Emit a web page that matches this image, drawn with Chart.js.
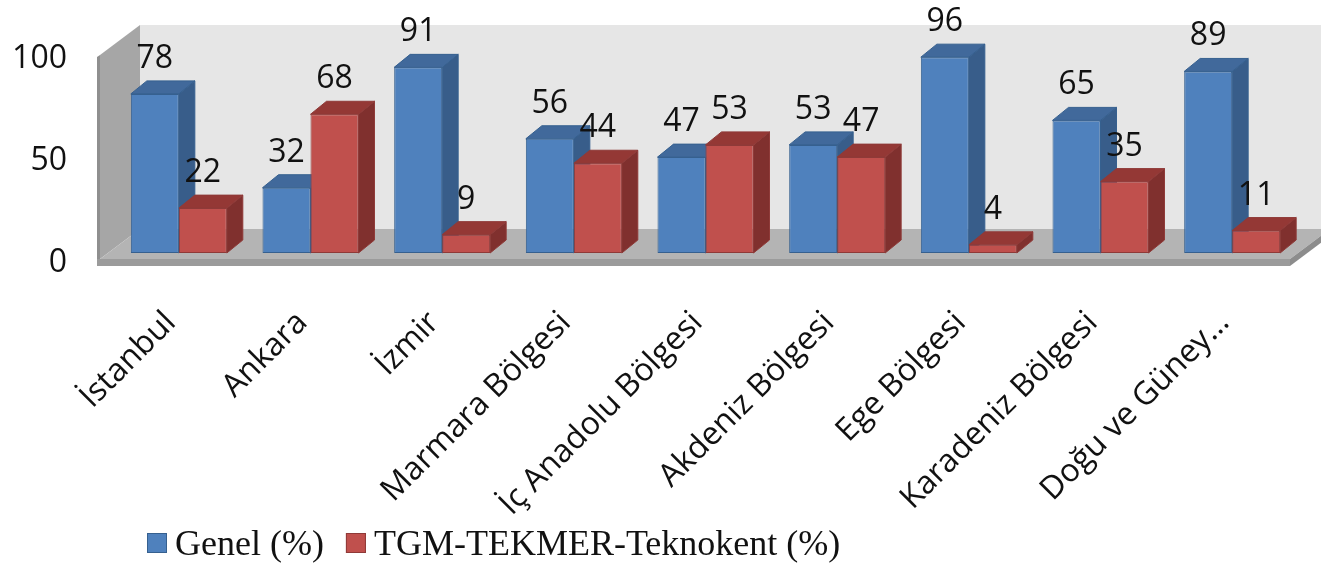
<!DOCTYPE html>
<html>
<head>
<meta charset="utf-8">
<script src="https://cdn.jsdelivr.net/npm/chart.js@4.4.1/dist/chart.umd.min.js"></script>
<style>
  html, body { margin: 0; padding: 0; background: #fff; }
  #wrap { width: 1321px; height: 570px; }
</style>
</head>
<body>
<div id="wrap"><canvas id="regionsChart" width="1321" height="570"></canvas></div>
<script>
const categories = ['İstanbul', 'Ankara', 'İzmir', 'Marmara Bölgesi', 'İç Anadolu Bölgesi', 'Akdeniz Bölgesi', 'Ege Bölgesi', 'Karadeniz Bölgesi', 'Doğu ve Güney…']
const genelValues = [78, 32, 91, 56, 47, 53, 96, 65, 89]
const tekmerValues = [22, 68, 9, 44, 53, 47, 4, 35, 11]
const seriesNames = ['Genel (%)', 'TGM-TEKMER-Teknokent (%)']
const yTicks = [0, 50, 100]

const seriesColors = [
  { front: '#4f81bd', side: '#385d8a', top: '#41699b', edge: '#36608f' },
  { front: '#c0504d', side: '#80302e', top: '#943835', edge: '#8f3a38' },
]

// depth of the floor / walls, bars sit a bit behind the front edge
const DEPTH = { x: 40, y: -30 }
const FRONT = 0.2
const BAR_DEPTH = { x: 16, y: -13 }

function poly(ctx, pts, fill, stroke) {
  ctx.beginPath()
  ctx.moveTo(pts[0][0], pts[0][1])
  for (let i = 1; i < pts.length; i++) ctx.lineTo(pts[i][0], pts[i][1])
  ctx.closePath()
  ctx.fillStyle = fill
  ctx.fill()
  if (stroke) {
    ctx.strokeStyle = stroke
    ctx.lineWidth = 1
    ctx.stroke()
  }
}

const box3dPlugin = {
  id: 'box3d',
  beforeDraw(chart) {
    const { ctx, chartArea, scales } = chart
    const y0 = scales.y.getPixelForValue(yTicks[0])
    const yMax = scales.y.getPixelForValue(yTicks[yTicks.length - 1])
    const fx = -DEPTH.x * FRONT, fy = -DEPTH.y * FRONT
    const bx = DEPTH.x * (1 - FRONT), by = DEPTH.y * (1 - FRONT)
    const l = chartArea.left - 5
    const r = chartArea.right
    ctx.save()
    // back wall
    poly(ctx, [[l + bx, yMax + by], [chart.width + 20, yMax + by], [chart.width + 20, y0 + by], [l + bx, y0 + by]], '#e6e6e6')
    // left wall
    poly(ctx, [[l + fx, yMax + fy], [l + bx, yMax + by], [l + bx, y0 + by], [l + fx, y0 + fy]], '#a6a6a6')
    poly(ctx, [[l + fx - 3, yMax + fy + 2], [l + fx, yMax + fy], [l + fx, y0 + fy + 7], [l + fx - 3, y0 + fy + 7]], '#8f8f8f')
    // floor
    poly(ctx, [[l + fx, y0 + fy], [r + fx, y0 + fy], [r + bx, y0 + by], [l + bx, y0 + by]], '#b4b4b4')
    poly(ctx, [[l + fx - 3, y0 + fy], [r + fx, y0 + fy], [r + fx, y0 + fy + 7], [l + fx - 3, y0 + fy + 7]], '#9b9b9b')
    poly(ctx, [[r + fx, y0 + fy], [r + bx, y0 + by], [r + bx, y0 + by + 7], [r + fx, y0 + fy + 7]], '#8c8c8c')
    ctx.restore()
  },
  beforeDatasetsDraw(chart) {
    const { ctx } = chart
    const metas = chart.getSortedVisibleDatasetMetas()
    ctx.save()
    categories.forEach((_, i) => {
      metas.forEach(meta => {
        const bar = meta.data[i]
        const { x, y, base, width } = bar.getProps(['x', 'y', 'base', 'width'], true)
        const x1 = x - width / 2, x2 = x + width / 2
        const c = seriesColors[meta.index]
        poly(ctx, [[x2, y], [x2 + BAR_DEPTH.x, y + BAR_DEPTH.y], [x2 + BAR_DEPTH.x, base + BAR_DEPTH.y], [x2, base]], c.side, c.edge)
        poly(ctx, [[x1, y], [x2, y], [x2 + BAR_DEPTH.x, y + BAR_DEPTH.y], [x1 + BAR_DEPTH.x, y + BAR_DEPTH.y]], c.top, c.edge)
      })
    })
    ctx.restore()
  },
  afterDatasetsDraw(chart) {
    const { ctx } = chart
    ctx.save()
    ctx.font = '32px "Open Sans"'
    ctx.fillStyle = '#111'
    ctx.textAlign = 'center'
    ctx.textBaseline = 'alphabetic'
    chart.getSortedVisibleDatasetMetas().forEach(meta => {
      const values = chart.data.datasets[meta.index].data
      meta.data.forEach((bar, i) => {
        const { x, y } = bar.getProps(['x', 'y'], true)
        ctx.fillText(String(values[i]), x, y - 26)
      })
    })
    ctx.restore()
  },
  afterDraw(chart) {
    // legend drawn by hand to match the spacing of the original
    const { ctx, chartArea } = chart
    ctx.save()
    ctx.font = '36px "Liberation Serif"'
    ctx.textBaseline = 'alphabetic'
    ctx.textAlign = 'left'
    let x = chartArea.left + 34
    chart.data.datasets.forEach((ds, i) => {
      const c = seriesColors[i]
      ctx.fillStyle = c.front
      ctx.fillRect(x, 533, 20, 20)
      ctx.strokeStyle = c.edge
      ctx.lineWidth = 1
      ctx.strokeRect(x + 0.5, 533.5, 19, 19)
      ctx.fillStyle = '#111'
      ctx.fillText(ds.label, x + 28, 555)
      x += 28 + ctx.measureText(ds.label).width + 22
    })
    ctx.restore()
  },
}

const ctx = document.getElementById('regionsChart').getContext('2d')

new Chart(ctx, {
  type: 'bar',
  data: {
    labels: categories,
    datasets: [
      {
        label: seriesNames[0],
        data: genelValues,
        backgroundColor: seriesColors[0].front,
        borderColor: seriesColors[0].edge,
        borderWidth: 1,
        borderSkipped: false,
      },
      {
        label: seriesNames[1],
        data: tekmerValues,
        backgroundColor: seriesColors[1].front,
        borderColor: seriesColors[1].edge,
        borderWidth: 1,
        borderSkipped: false,
      },
    ],
  },
  options: {
    responsive: false,
    animation: false,
    layout: { padding: { top: 49, right: 23, bottom: 0, left: 0 } },
    datasets: {
      bar: { categoryPercentage: 0.729, barPercentage: 1 },
    },
    scales: {
      x: {
        grid: { display: false, drawTicks: false },
        border: { display: false },
        ticks: {
          autoSkip: false,
          maxRotation: 45,
          minRotation: 45,
          padding: 51,
          labelOffset: -8,
          color: '#111',
          font: { family: 'Open Sans', size: 32 },
        },
        afterFit: (scale) => { scale.height = 317 },
      },
      y: {
        min: 0,
        max: 100,
        grid: { display: false, drawTicks: false },
        border: { display: false },
        ticks: {
          stepSize: 50,
          padding: 46,
          labelOffset: 10,
          color: '#111',
          font: { family: 'Open Sans', size: 32 },
          callback: (value) => yTicks.includes(value) ? value : '',
        },
        afterFit: (scale) => {
          scale.width = 113
          scale.paddingTop = 0
          scale.paddingBottom = 0
        },
      },
    },
    plugins: {
      legend: { display: false },
      tooltip: { enabled: false },
    },
  },
  plugins: [box3dPlugin],
})
</script>
</body>
</html>
